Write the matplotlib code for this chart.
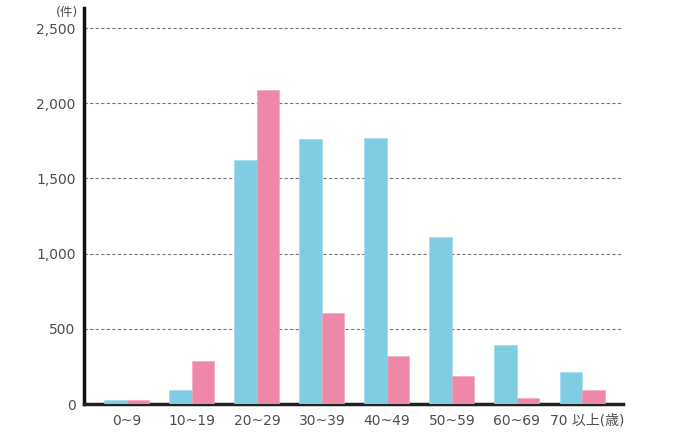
import numpy as np
import matplotlib.pyplot as plt
from matplotlib.transforms import ScaledTranslation

plt.rcParams['font.family'] = ['DejaVu Sans', 'Noto Sans CJK JP']

ages = ['0~9', '10~19', '20~29', '30~39', '40~49', '50~59', '60~69', '70 以上(歳)']
blue_vals = [25, 93, 1622, 1762, 1769, 1110, 392, 213]
pink_vals = [25, 286, 2088, 605, 319, 186, 40, 93]
yticks = [0, 500, 1000, 1500, 2000, 2500]

fig = plt.figure(figsize=(6.98, 4.38), dpi=100)
ax = fig.add_axes([0.1203, 0.0776, 0.7722, 0.9041])

x = np.arange(len(ages))
w = 0.346
ax.bar(x - w/2, blue_vals, w, color='#7ecde3', edgecolor='#9fd9ea', linewidth=0.4, zorder=3)
ax.bar(x + w/2, pink_vals, w, color='#ef87a8', edgecolor='#f3a4bd', linewidth=0.4, zorder=3)

ax.set_xlim(-0.66, 7.63)
ax.set_ylim(0, 2633)
ax.set_yticks(yticks)
ax.set_yticklabels(['{:,}'.format(v) for v in yticks])
ax.set_xticks(x)
ax.set_xticklabels(ages)
ax.yaxis.grid(True, linestyle=(0, (3, 2)), color='#777777', linewidth=0.8)
ax.set_axisbelow(True)

for s in ['top', 'right']:
    ax.spines[s].set_visible(False)
ax.spines['left'].set_linewidth(2.5)
ax.spines['bottom'].set_linewidth(2.5)
ax.spines['left'].set_color('#111111')
ax.spines['bottom'].set_color('#222222')
ax.tick_params(length=0, labelsize=10, labelcolor='#4d4d4d')
ax.tick_params(axis='x', pad=7)
ax.tick_params(axis='y', pad=6)

# last label sits a bit to the right in the original
lab = ax.get_xticklabels()[-1]
lab.set_transform(lab.get_transform() + ScaledTranslation(0.05, 0, fig.dpi_scale_trans))

fig.text(0.112, 0.972, '(件)', ha='right', va='center', fontsize=9, color='#4d4d4d')

fig.savefig('out.png')
